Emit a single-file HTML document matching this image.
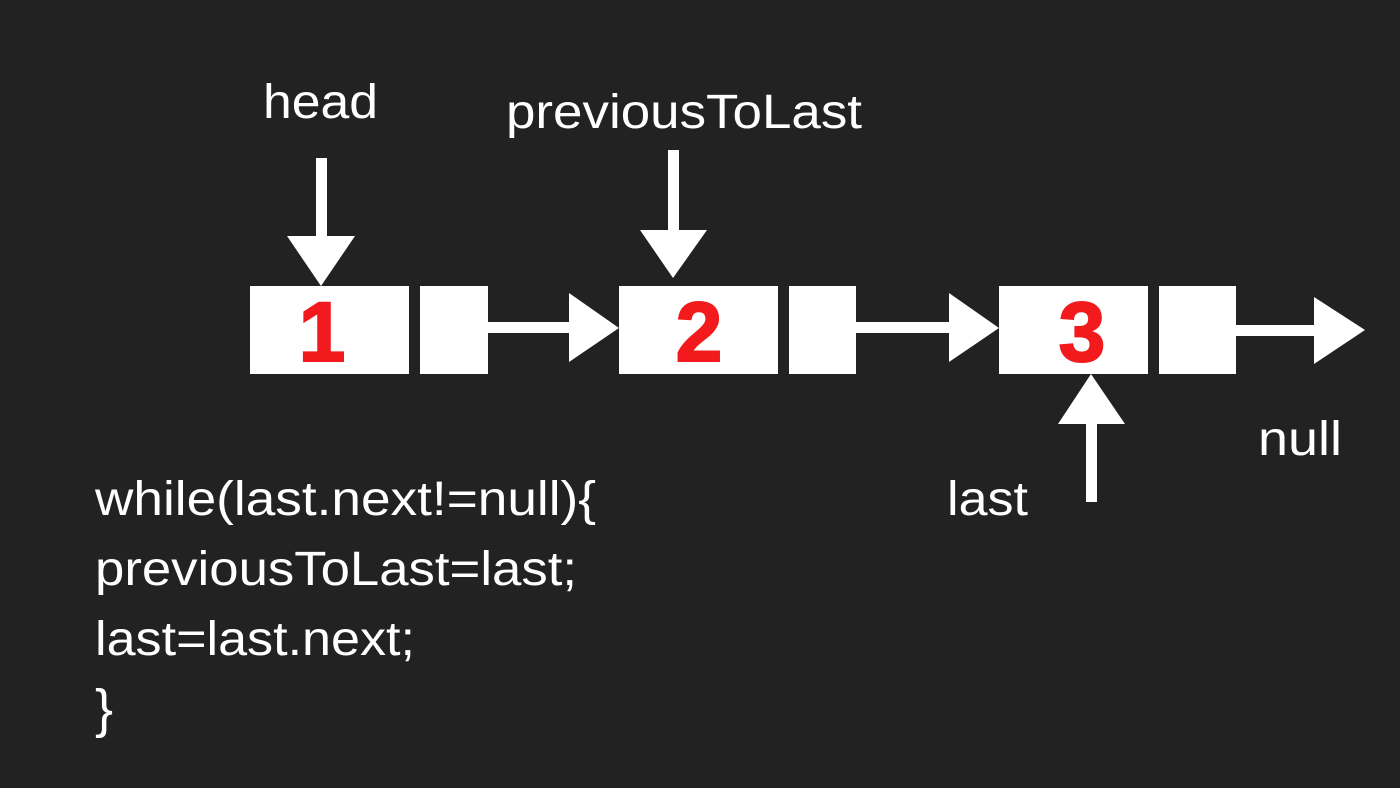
<!DOCTYPE html>
<html><head><style>html,body{margin:0;padding:0;background:#222;}svg{display:block}</style></head>
<body>
<svg width="1400" height="788" viewBox="0 0 1400 788" xmlns="http://www.w3.org/2000/svg">
<rect width="1400" height="788" fill="#222222"/>
<g fill="#ffffff">
<rect x="250" y="286" width="159" height="88"/>
<rect x="420" y="286" width="68" height="88"/>
<rect x="619" y="286" width="159" height="88"/>
<rect x="789" y="286" width="67" height="88"/>
<rect x="999" y="286" width="149" height="88"/>
<rect x="1159" y="286" width="77" height="88"/>
<rect x="487" y="322" width="84" height="11"/>
<polygon points="569,293 619,328 569,362"/>
<rect x="855" y="322" width="96" height="11"/>
<polygon points="949,293 999,328 949,362"/>
<rect x="1235" y="325" width="81" height="11"/>
<polygon points="1314,297 1365,330 1314,364"/>
<rect x="316" y="158" width="11" height="80"/>
<polygon points="287,236 355,236 321,286"/>
<rect x="668" y="150" width="11" height="82"/>
<polygon points="640,230 707,230 673,278"/>
<rect x="1086" y="422" width="11" height="80"/>
<polygon points="1058,424 1125,424 1091,374"/>
</g>
<g fill="#f31a1e" stroke="#f31a1e" stroke-width="2" font-family="'Liberation Sans',sans-serif" font-weight="bold" font-size="84" text-anchor="middle">
<text x="322" y="361">1</text>
<text x="699" y="361">2</text>
<text x="1082" y="361">3</text>
</g>
<g fill="#ffffff" font-family="'Liberation Sans',sans-serif" font-size="48">
<text x="263" y="118" textLength="115" lengthAdjust="spacingAndGlyphs">head</text>
<text x="506" y="128" textLength="356" lengthAdjust="spacingAndGlyphs">previousToLast</text>
<text x="1258" y="455" textLength="84" lengthAdjust="spacingAndGlyphs">null</text>
<text x="947" y="515" textLength="81" lengthAdjust="spacingAndGlyphs">last</text>
<text x="95" y="515" textLength="501" lengthAdjust="spacingAndGlyphs">while(last.next!=null){</text>
<text x="95" y="585" textLength="482" lengthAdjust="spacingAndGlyphs">previousToLast=last;</text>
<text x="95" y="655" textLength="320" lengthAdjust="spacingAndGlyphs">last=last.next;</text>
<text x="95" y="727" font-size="54">}</text>
</g>
</svg>
</body></html>
